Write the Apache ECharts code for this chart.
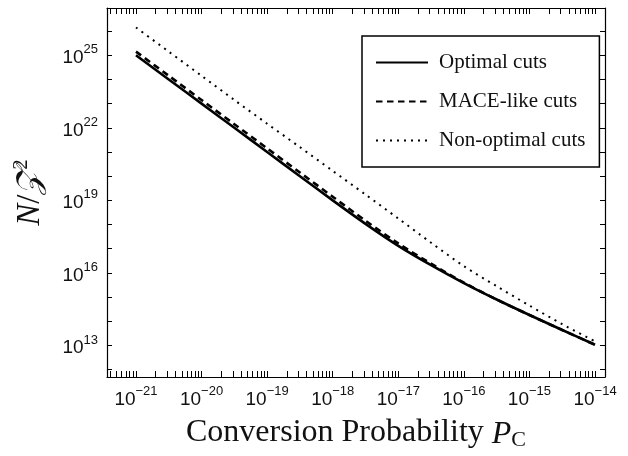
<!DOCTYPE html>
<html>
<head>
<meta charset="utf-8">
<script src="https://cdn.jsdelivr.net/npm/echarts@6/dist/echarts.min.js"></script>
<style>
  html, body { margin: 0; padding: 0; background: #fff; }
  #chart { width: 628px; height: 456px; }
</style>
</head>
<body>
<div id="chart"></div>
<script>
// x = log10(P_C), y = log10(N / Z^2)
const xExp = [-21, -20.5, -20, -19.5, -19, -18.5, -18, -17.5, -17, -16.5, -16, -15.5, -15, -14.5, -14];
const optimalCuts = [25.0, 24.0, 23.0, 22.0, 21.0, 20.0, 19.0, 18.03, 17.12, 16.32, 15.58, 14.9, 14.26, 13.64, 13.03];
const maceLikeCuts = [25.15, 24.15, 23.15, 22.15, 21.15, 20.15, 19.15, 18.16, 17.22, 16.38, 15.6, 14.9, 14.26, 13.64, 13.03];
const nonOptimalCuts = [26.15, 25.15, 24.15, 23.15, 22.17, 21.2, 20.22, 19.24, 18.25, 17.25, 16.28, 15.45, 14.65, 13.88, 13.17];

const seriesNames = ['Optimal cuts', 'MACE-like cuts', 'Non-optimal cuts'];

// tick labels (exponents)
const xLabelExp = [-21, -20, -19, -18, -17, -16, -15, -14];
const yLabelExp = [13, 16, 19, 22, 25];
const yTickExp = [12, 13, 14, 15, 16, 17, 18, 19, 20, 21, 22, 23, 24, 25, 26];

const X_MIN = -21.442, X_MAX = -13.848;
const Y_MIN = 11.697, Y_MAX = 26.954;

// minor ticks at 2..9 inside every decade
const xTickVals = [];
for (let n = -22; n <= -14; n++) {
  for (let k = 1; k <= 9; k++) {
    const v = n + Math.log10(k);
    if (v >= X_MIN && v <= X_MAX) xTickVals.push(v);
  }
}

const sans = '"Liberation Sans", Arial, sans-serif';
const serif = '"Liberation Serif", "Times New Roman", serif';

const tickRich = {
  b: { fontSize: 19, fontFamily: sans, color: '#111', lineHeight: 24, verticalAlign: 'bottom' },
  s: { fontSize: 13, fontFamily: sans, color: '#111', lineHeight: 14, verticalAlign: 'top' }
};

function toData(ys) {
  return xExp.map((x, i) => [x, ys[i]]);
}

function xAxisCfg(pos, showLabel) {
  return {
    type: 'value', position: pos, min: X_MIN, max: X_MAX,
    axisLine: { show: true, onZero: false, lineStyle: { color: '#000', width: 1.2 } },
    axisTick: { show: true, inside: true, length: 6, customValues: xTickVals, lineStyle: { color: '#000', width: 1 } },
    axisLabel: {
      show: showLabel, customValues: xLabelExp, margin: 8,
      formatter: v => '{b|10}{s|−' + Math.abs(Math.round(v)) + '}',
      rich: tickRich
    },
    splitLine: { show: false }
  };
}

function yAxisCfg(pos, showLabel) {
  return {
    type: 'value', position: pos, min: Y_MIN, max: Y_MAX,
    axisLine: { show: true, onZero: false, lineStyle: { color: '#000', width: 1.2 } },
    axisTick: { show: true, inside: true, length: 5, customValues: yTickExp, lineStyle: { color: '#000', width: 1 } },
    axisLabel: {
      show: showLabel, customValues: yLabelExp, margin: 9,
      formatter: v => '{b|10}{s|' + Math.round(v) + '}',
      rich: tickRich
    },
    splitLine: { show: false }
  };
}

const chart = echarts.init(document.getElementById('chart'), null, { renderer: 'canvas' });

const xBottom = xAxisCfg('bottom', true);
xBottom.name = 'Conversion Probability {i|P}{sub|C}';
xBottom.nameLocation = 'middle';
xBottom.nameGap = 38;
xBottom.nameTextStyle = {
  fontSize: 32, fontFamily: serif, color: '#111',
  rich: {
    i: { fontSize: 32, fontFamily: serif, fontStyle: 'italic', color: '#111', lineHeight: 36, verticalAlign: 'bottom' },
    sub: { fontSize: 22, fontFamily: serif, color: '#111', lineHeight: 22, verticalAlign: 'bottom' }
  }
};

const yLeft = yAxisCfg('left', true);
yLeft.name = '{i|N}{n|/}{i|𝒵}{s|2}';
yLeft.nameLocation = 'middle';
yLeft.nameRotate = 90;
yLeft.nameGap = 60;
yLeft.nameTextStyle = {
  rich: {
    i: { fontSize: 33, fontFamily: serif, fontStyle: 'italic', color: '#111', lineHeight: 36, verticalAlign: 'bottom' },
    n: { fontSize: 33, fontFamily: serif, color: '#111', lineHeight: 36, verticalAlign: 'bottom' },
    s: { fontSize: 21, fontFamily: serif, color: '#111', lineHeight: 20, verticalAlign: 'top' }
  }
};

const lineStyles = [
  { color: '#000', width: 2.6, type: 'solid' },
  { color: '#000', width: 2.6, type: [6.5, 4.5] },
  { color: '#000', width: 2, type: [2, 5] }
];
const seriesData = [optimalCuts, maceLikeCuts, nonOptimalCuts];

const option = {
  animation: false,
  backgroundColor: '#fff',
  grid: { left: 107, top: 8, width: 498, height: 375, containLabel: false },
  xAxis: [xBottom, xAxisCfg('top', false)],
  yAxis: [yLeft, yAxisCfg('right', false)],
  legend: {
    orient: 'vertical',
    left: 362, top: 36,
    padding: [16, 14, 16, 13],
    itemGap: 18,
    itemWidth: 52,
    itemHeight: 14,
    borderColor: '#000',
    borderWidth: 1.5,
    backgroundColor: '#fff',
    itemStyle: { opacity: 0 },
    textStyle: { fontSize: 21, fontFamily: serif, color: '#111', lineHeight: 21, padding: [0, 0, 0, 6] },
    data: seriesNames
  },
  series: seriesNames.map((name, i) => ({
    name: name,
    type: 'line',
    xAxisIndex: 0,
    yAxisIndex: 0,
    data: toData(seriesData[i]),
    symbol: 'none',
    smooth: 0.3,
    lineStyle: lineStyles[i],
    itemStyle: { color: '#000' },
    z: 3 - i
  }))
};

chart.setOption(option);
</script>
</body>
</html>
